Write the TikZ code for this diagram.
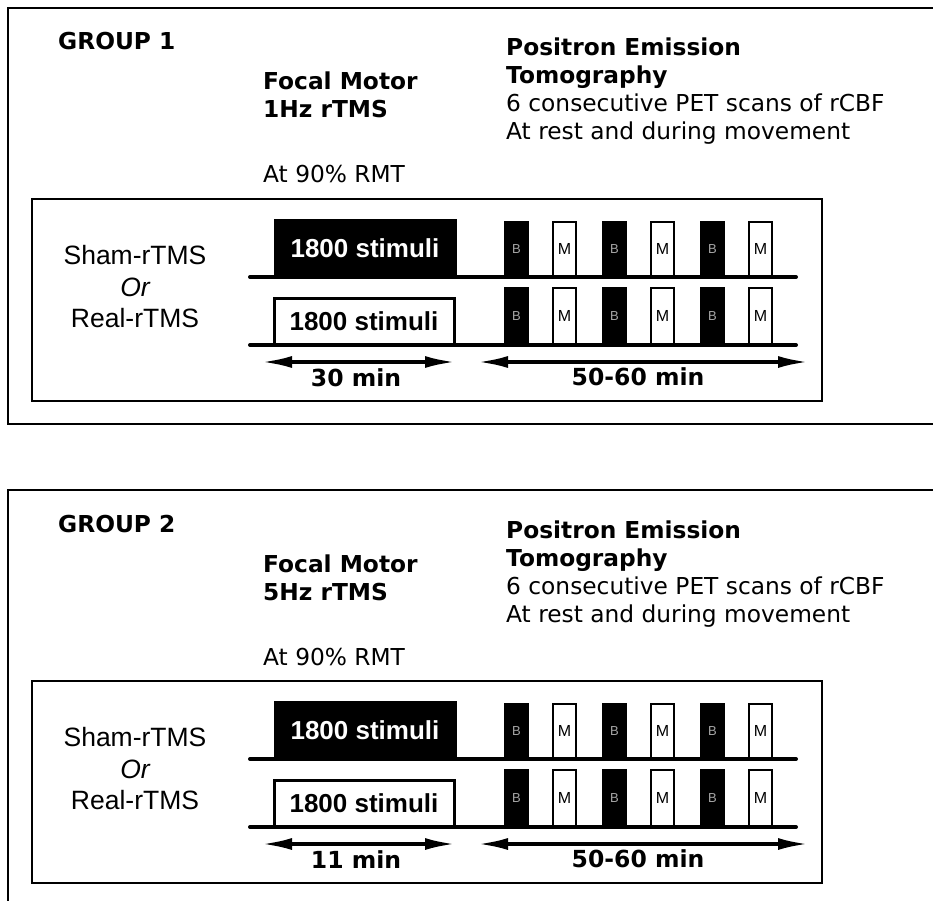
\documentclass[tikz,border=0pt]{standalone}
\usepackage{fontspec}
\setmainfont{DejaVu Sans}
\newfontfamily\arialf{Liberation Sans}
\usetikzlibrary{arrows.meta}

\begin{document}
\begin{tikzpicture}[x=1pt,y=-1pt]
	\tikzstyle{hd}=[anchor=base west,inner sep=0pt,font=\fontsize{23.3}{28}\selectfont\bfseries]
	\tikzstyle{tx}=[anchor=base west,inner sep=0pt,font=\fontsize{23.3}{28}\selectfont]
	\tikzstyle{arm}=[inner sep=0pt,font=\arialf\fontsize{26.5}{30}\selectfont]
	\tikzstyle{stim}=[draw=black,minimum width=182pt,inner sep=0pt,font=\arialf\bfseries\fontsize{26}{30}\selectfont]
	\tikzstyle{pb}=[fill=black,minimum width=25pt,inner sep=0pt,text=gray!70,font=\arialf\fontsize{13}{15}\selectfont]
	\tikzstyle{pm}=[draw=black,line width=1.8pt,fill=white,minimum width=23pt,inner sep=0pt,font=\arialf\fontsize{16}{18}\selectfont]
	\tikzstyle{tl}=[line width=4pt,line cap=round]
	\tikzstyle{dur}=[line width=3.4pt,{Latex[length=30pt,width=12pt]}-{Latex[length=30pt,width=12pt]}]
	\tikzstyle{lab}=[anchor=base,inner sep=0pt,font=\fontsize{23.5}{28}\selectfont\bfseries]
	\useasboundingbox (0,0) rectangle (933,901);
	% outer frames
	\draw[line width=1.3pt] (933,8) -- (8,8) -- (8,424) -- (933,424);
	\draw[line width=1.3pt] (933,490) -- (8,490) -- (8,901);
	\foreach \n/\dy/\hz/\len in {1/0/1/30 min,2/482/5/11 min}{
		% header
		\node[hd] (grp\n) at (58,50+\dy) {GROUP \n};
		\node[hd] (fm\n) at (263,90+\dy) {Focal Motor};
		\node[hd] (hz\n) at (263,118+\dy) {\hz Hz rTMS};
		\node[tx] (rmt\n) at (263,183+\dy) {At 90\% RMT};
		\node[hd] (pe\n) at (506,56+\dy) {Positron Emission};
		\node[hd] (tm\n) at (506,84+\dy) {Tomography};
		\node[tx] (pet\n) at (506,112+\dy) {6 consecutive PET scans of rCBF};
		\node[tx] (mv\n) at (506,140+\dy) {At rest and during movement};
		% protocol box
		\draw[line width=1.5pt] (32,199+\dy) rectangle (822,401+\dy);
		\node[arm] (sh\n) at (135,255+\dy) {Sham-rTMS};
		\node[arm,font=\arialf\itshape\fontsize{26.5}{30}\selectfont] (or\n) at (135,287+\dy) {Or};
		\node[arm] (re\n) at (135,318+\dy) {Real-rTMS};
		\coordinate (ta\n) at (250,277+\dy);
		\coordinate (tb\n) at (796,277+\dy);
		\coordinate (tc\n) at (250,345+\dy);
		\coordinate (td\n) at (796,345+\dy);
		\draw[tl] (ta\n) -- (tb\n);
		\draw[tl] (tc\n) -- (td\n);
		\node[stim,fill=black,text=white,minimum height=58pt] (sa\n) at (365,248+\dy) {1800 stimuli};
		\node[stim,fill=white,line width=3pt,minimum width=180pt,minimum height=46pt] (sb\n) at (364,321.5+\dy) {1800 stimuli};
		\foreach \i in {0,1,2}{
			\node[pb,minimum height=56pt] (b\n\i) at (516.5+98*\i,249+\dy) {B};
			\node[pm,minimum height=54pt] (m\n\i) at (564.5+98*\i,249+\dy) {M};
			\node[pb,minimum height=58pt] (c\n\i) at (516.5+98*\i,316+\dy) {B};
			\node[pm,minimum height=56pt] (k\n\i) at (564.5+98*\i,316+\dy) {M};
		}
		% durations
		\coordinate (da\n) at (262,362+\dy);
		\coordinate (db\n) at (455,362+\dy);
		\coordinate (dc\n) at (478,362+\dy);
		\coordinate (dd\n) at (808,362+\dy);
		\draw[dur] (da\n) -- (db\n);
		\draw[dur] (dc\n) -- (dd\n);
		\node[lab] (l\n) at (356,386+\dy) {\len};
		\node[lab] (p\n) at (638,385+\dy) {50-60 min};
	}
\end{tikzpicture}
\end{document}
